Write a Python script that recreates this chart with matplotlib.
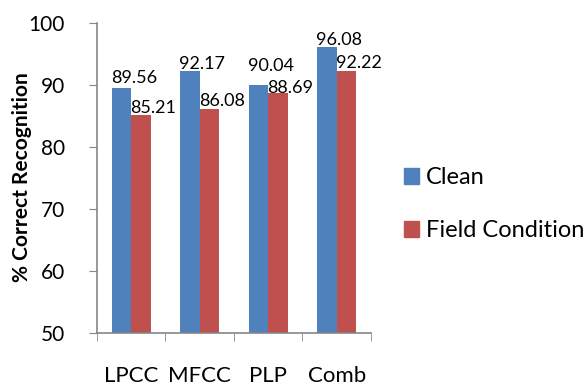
import numpy as np
import matplotlib.pyplot as plt
from matplotlib.patches import Patch

# Data
categories = ['LPCC', 'MFCC', 'PLP', 'Comb']
clean = [89.56, 92.17, 90.04, 96.08]
field = [85.21, 86.08, 88.69, 92.22]

# label lift above the bar top (points), roughly as in the original
clean_lift = [3.5, 1.5, 9.5, 1.5]
field_lift = [1.5, 2.0, 0.0, 2.0]

plt.rcParams['font.family'] = ['Lato', 'DejaVu Sans']

fig = plt.figure(figsize=(5.87, 3.88), dpi=100)
ax = fig.add_axes([0.165, 0.142, 0.467, 0.799])

x = np.arange(len(categories))
w = 0.285
blue = '#4F81BD'
red = '#C0504D'
b1 = ax.bar(x - w / 2, clean, w, bottom=0, color=blue)
b2 = ax.bar(x + w / 2, field, w, bottom=0, color=red)

# value labels above bars
for bars, vals, lifts in ((b1, clean, clean_lift), (b2, field, field_lift)):
    for rect, v, d in zip(bars, vals, lifts):
        ax.annotate(f'{v:.2f}', (rect.get_x() + rect.get_width() / 2, v),
                    xytext=(9, d), textcoords='offset points',
                    ha='center', va='baseline', fontsize=13)

ax.set_ylim(50, 100)
ax.set_xlim(-0.5, len(categories) - 0.5)
ax.set_yticks(np.arange(50, 101, 10))
ax.set_xticks(x)
ax.set_xticklabels(categories)
ax.set_xticks(np.arange(-0.5, len(categories)), minor=True)
ax.tick_params(axis='x', which='major', length=0, pad=24, labelsize=16)
ax.tick_params(axis='x', which='minor', length=6, color='#868686', direction='out')
ax.tick_params(axis='y', length=6, color='#868686', labelsize=15, pad=17)

for s in ('top', 'right'):
    ax.spines[s].set_visible(False)
for s in ('left', 'bottom'):
    ax.spines[s].set_color('#868686')
    ax.spines[s].set_linewidth(1.2)

fig.text(22 / 587, 0.5425, '% Correct Recognition', rotation=90,
         ha='center', va='center', fontsize=15, fontweight='bold')

handles = [Patch(color=blue, label='Clean'), Patch(color=red, label='Field Condition')]
fig.legend(handles=handles, loc='center left', bbox_to_anchor=(0.688, 0.474),
           frameon=False, fontsize=17, labelspacing=1.35, handlelength=0.64,
           handleheight=0.64, handletextpad=0.3, borderpad=0, borderaxespad=0)

plt.savefig('out.png', dpi=100)
